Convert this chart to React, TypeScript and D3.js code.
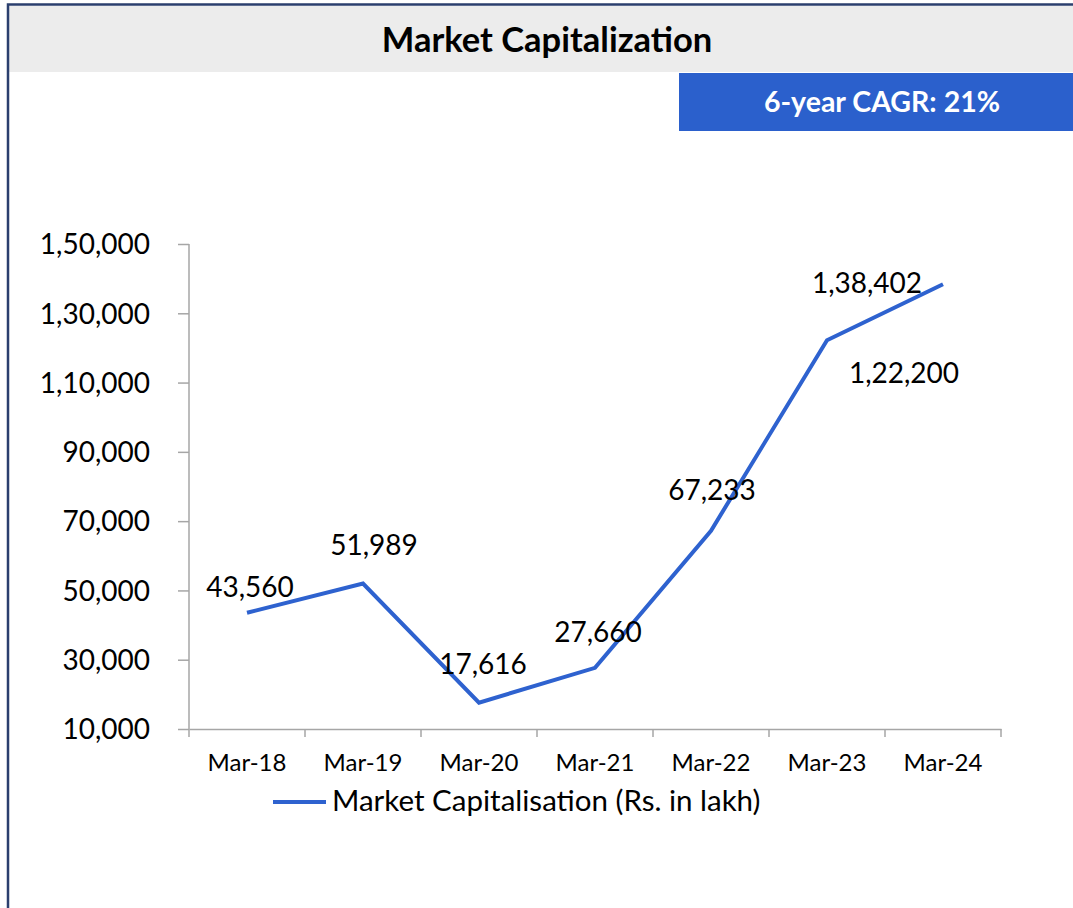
import { useEffect, useRef } from "react";
import * as d3 from "d3";

const CATEGORIES = ["Mar-18", "Mar-19", "Mar-20", "Mar-21", "Mar-22", "Mar-23", "Mar-24"];
const MARKET_CAP = [43560, 51989, 17616, 27660, 67233, 122200, 138402];
const Y_TICKS = [10000, 30000, 50000, 70000, 90000, 110000, 130000, 150000];
const SERIES_NAME = "Market Capitalisation (Rs. in lakh)";
const TITLE = "Market Capitalization";
const CAGR_TEXT = "6-year CAGR: 21%";

// hand placed data labels (offset from the point, like the Excel original)
const LABEL_OFFSETS = [
  { dx: 3, dy: -16 },
  { dx: 11, dy: -29 },
  { dx: 4, dy: -29 },
  { dx: 3, dy: -26 },
  { dx: 1, dy: -31 },
  { dx: 77, dy: 43 },
  { dx: -76, dy: 9 },
];

const W = 1073;
const H = 908;
const PLOT = { left: 189, right: 1001, top: 244, bottom: 729 };
const FONT = "Lato, 'Open Sans', sans-serif";
const BLUE = "#2e62cf";
const AXIS_GREY = "#a6a6a6";

// Indian digit grouping: 1,50,000
function formatIN(v: number) {
  const s = String(Math.round(v));
  if (s.length <= 3) return s;
  const last3 = s.slice(-3);
  const rest = s.slice(0, -3).replace(/\B(?=(\d{2})+(?!\d))/g, ",");
  return `${rest},${last3}`;
}

export default function App() {
  const ref = useRef<SVGSVGElement | null>(null);

  useEffect(() => {
    const svg = d3.select(ref.current);
    svg.selectAll("*").remove();

    // frame + header
    svg.append("rect").attr("x", 0).attr("y", 0).attr("width", W).attr("height", H).attr("fill", "#fff");
    svg
      .append("rect")
      .attr("x", 9)
      .attr("y", 6)
      .attr("width", W)
      .attr("height", 66)
      .attr("fill", "#ececec");
    svg
      .append("rect")
      .attr("x", 8)
      .attr("y", 4.5)
      .attr("width", W + 20)
      .attr("height", H + 20)
      .attr("fill", "none")
      .attr("stroke", "#2b3f6e")
      .attr("stroke-width", 2.5);

    svg
      .append("text")
      .attr("x", 547)
      .attr("y", 52)
      .attr("text-anchor", "middle")
      .attr("font-family", FONT)
      .attr("font-weight", "bold")
      .attr("font-size", 34.5)
      .attr("fill", "#000")
      .text(TITLE);

    svg
      .append("rect")
      .attr("x", 679)
      .attr("y", 73)
      .attr("width", W - 679)
      .attr("height", 58)
      .attr("fill", "#2b60cc");
    svg
      .append("text")
      .attr("x", 882)
      .attr("y", 112)
      .attr("text-anchor", "middle")
      .attr("font-family", FONT)
      .attr("font-weight", "bold")
      .attr("font-size", 28.5)
      .attr("fill", "#fff")
      .text(CAGR_TEXT);

    // scales
    const x = d3.scaleBand<string>().domain(CATEGORIES).range([PLOT.left, PLOT.right]);
    const cx = (c: string) => (x(c) ?? 0) + x.bandwidth() / 2;
    const y = d3
      .scaleLinear()
      .domain([Y_TICKS[0], Y_TICKS[Y_TICKS.length - 1]])
      .range([PLOT.bottom, PLOT.top]);

    // y axis
    const yAxis = d3.axisLeft(y).tickValues(Y_TICKS).tickSize(11).tickFormat((d) => formatIN(+d));
    const gy = svg.append("g").attr("transform", `translate(${PLOT.left},0)`).call(yAxis);
    gy.select(".domain").attr("stroke", AXIS_GREY).attr("stroke-width", 1.5).attr("d", `M0,${PLOT.top}V${PLOT.bottom}`);
    gy.selectAll(".tick line").attr("stroke", AXIS_GREY).attr("stroke-width", 1.5);
    gy.selectAll(".tick text")
      .attr("x", -39)
      .attr("dy", "0.35em")
      .attr("font-family", FONT)
      .attr("font-size", 28)
      .attr("fill", "#000");

    // x axis
    const xAxis = d3.axisBottom(x).tickSize(0).tickSizeOuter(0);
    const gx = svg.append("g").attr("transform", `translate(0,${PLOT.bottom})`).call(xAxis);
    gx.select(".domain").attr("stroke", AXIS_GREY).attr("stroke-width", 1.5);
    gx.selectAll(".tick text")
      .attr("y", 42)
      .attr("dy", 0)
      .attr("font-family", FONT)
      .attr("font-size", 24)
      .attr("fill", "#000");
    // category boundary ticks
    const bounds = CATEGORIES.map((c) => x(c) ?? 0).concat([PLOT.right]);
    gx.selectAll("line.bound")
      .data(bounds)
      .enter()
      .append("line")
      .attr("class", "bound")
      .attr("x1", (d) => d)
      .attr("x2", (d) => d)
      .attr("y1", 0)
      .attr("y2", 8)
      .attr("stroke", AXIS_GREY)
      .attr("stroke-width", 1.5);

    // series line
    const data = CATEGORIES.map((c, i) => ({ c, v: MARKET_CAP[i] }));
    const line = d3
      .line<{ c: string; v: number }>()
      .x((d) => cx(d.c))
      .y((d) => y(d.v));
    svg
      .append("path")
      .datum(data)
      .attr("fill", "none")
      .attr("stroke", BLUE)
      .attr("stroke-width", 4)
      .attr("d", line);

    // data labels
    svg
      .selectAll("text.dl")
      .data(data)
      .enter()
      .append("text")
      .attr("class", "dl")
      .attr("x", (d, i) => cx(d.c) + LABEL_OFFSETS[i].dx)
      .attr("y", (d, i) => y(d.v) + LABEL_OFFSETS[i].dy)
      .attr("text-anchor", "middle")
      .attr("font-family", FONT)
      .attr("font-size", 28)
      .attr("fill", "#000")
      .text((d) => formatIN(d.v));

    // legend
    svg
      .append("line")
      .attr("x1", 273)
      .attr("x2", 326)
      .attr("y1", 802)
      .attr("y2", 802)
      .attr("stroke", BLUE)
      .attr("stroke-width", 4);
    svg
      .append("text")
      .attr("x", 332)
      .attr("y", 811)
      .attr("font-family", FONT)
      .attr("font-size", 29.5)
      .attr("fill", "#000")
      .text(SERIES_NAME);
  }, []);

  return (
    <svg
      ref={ref}
      width={W}
      height={H}
      style={{ position: "fixed", left: 0, top: 0, display: "block" }}
    />
  );
}
